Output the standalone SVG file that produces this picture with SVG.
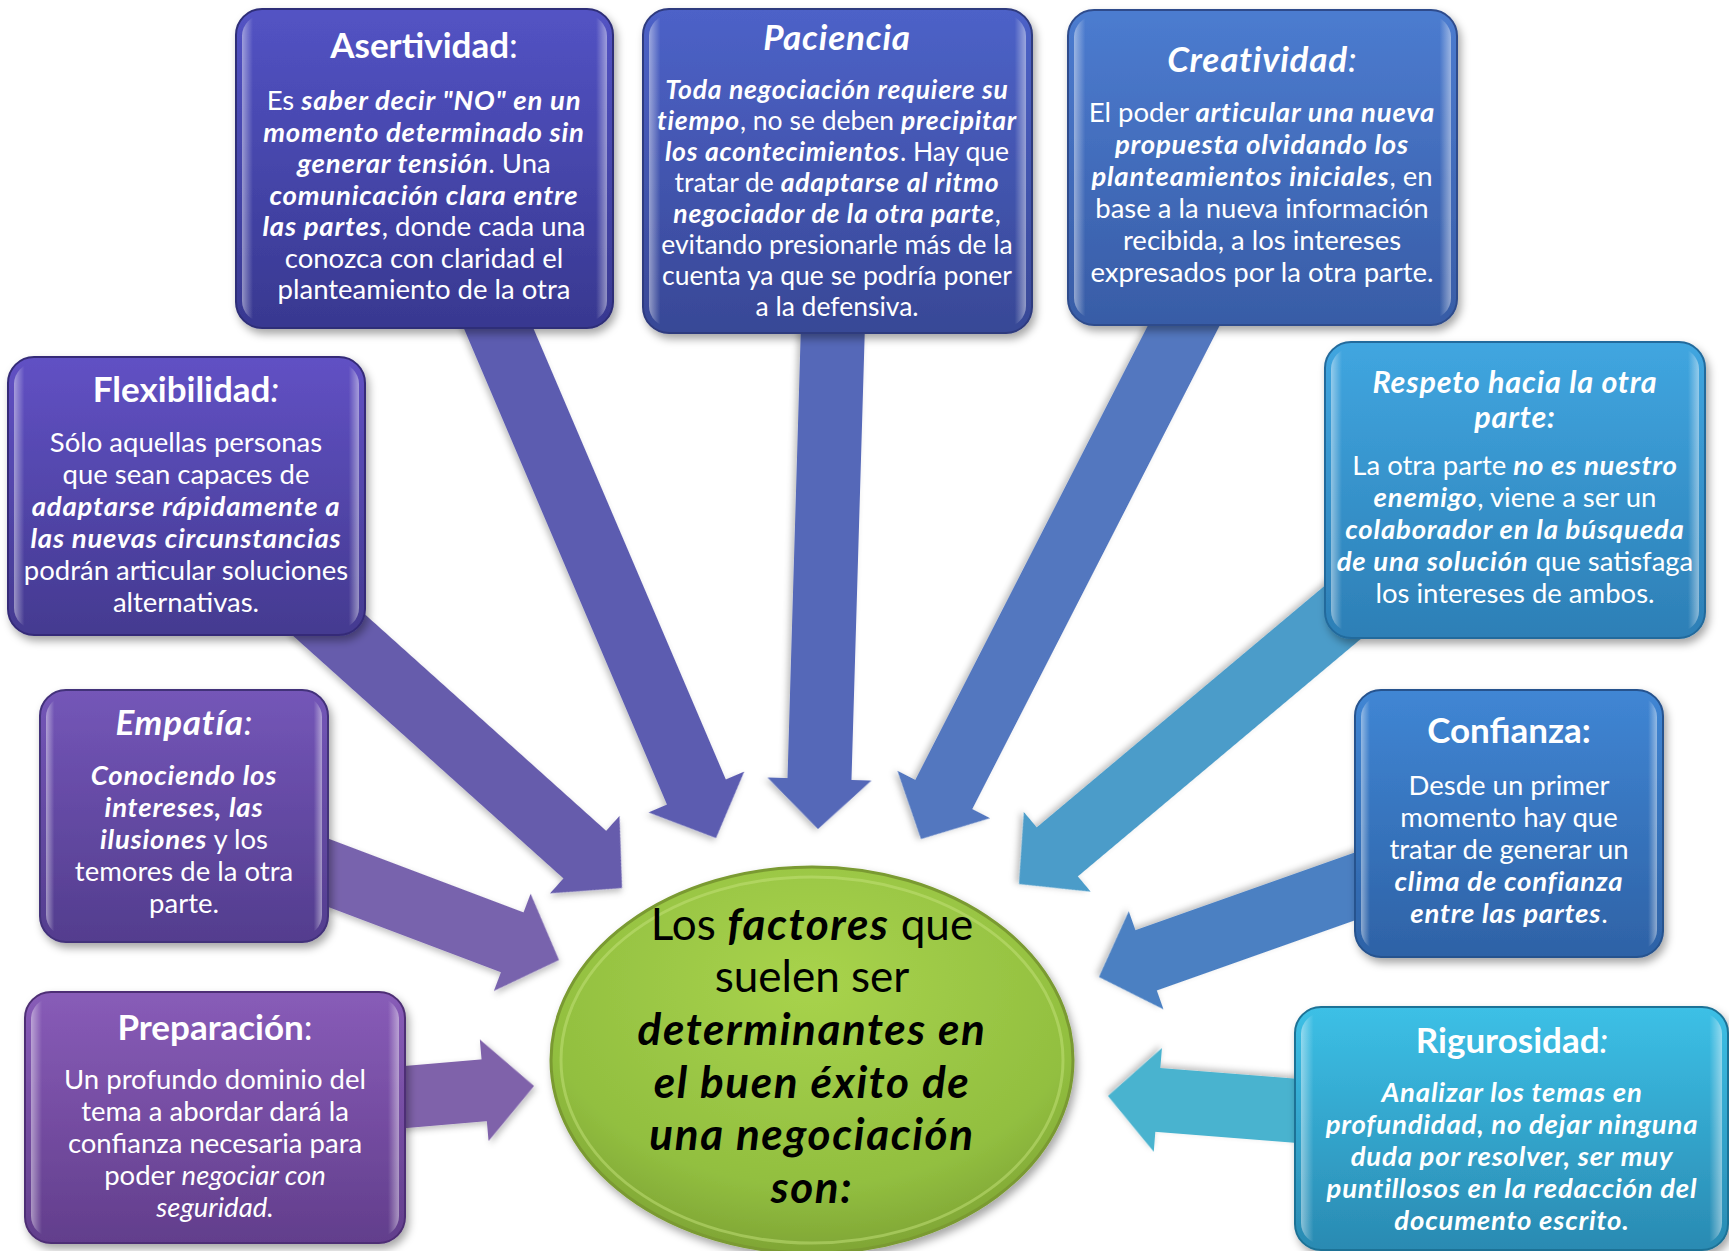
<svg xmlns="http://www.w3.org/2000/svg" width="1729" height="1251" viewBox="0 0 1729 1251">
<defs>
<style>
text{font-family:Lato,"Open Sans","Liberation Sans",sans-serif;text-anchor:middle;fill:#fff}
.t{font-size:35px;font-weight:bold}
.b{font-size:27.5px}
#paciencia .b{font-size:26.5px}
.bi{font-weight:bold;font-style:italic;letter-spacing:0.8px}
.i{font-style:italic}
.n{font-weight:normal;letter-spacing:0}
.c{font-size:44px;fill:#000}
.c.bi,.c .bi{letter-spacing:1.6px}
.box{stroke-width:2}
.arrow{filter:url(#ash)}
</style>
<filter id="sh" x="-10%" y="-10%" width="125%" height="125%"><feDropShadow dx="3" dy="5" stdDeviation="4" flood-color="#000" flood-opacity="0.35"/></filter>
<filter id="ash" x="-10%" y="-10%" width="125%" height="125%"><feDropShadow dx="2" dy="3" stdDeviation="3" flood-color="#000" flood-opacity="0.25"/></filter>
<linearGradient id="edge" x1="0" y1="0" x2="1" y2="0">
<stop offset="0" stop-color="#fff" stop-opacity="0.45"/><stop offset="0.03" stop-color="#fff" stop-opacity="0"/><stop offset="0.97" stop-color="#fff" stop-opacity="0"/><stop offset="1" stop-color="#fff" stop-opacity="0.45"/>
</linearGradient>
<linearGradient id="gA" x1="0" y1="0" x2="0" y2="1"><stop offset="0" stop-color="#5353c4"/><stop offset="1" stop-color="#383890"/></linearGradient>
<linearGradient id="gP" x1="0" y1="0" x2="0" y2="1"><stop offset="0" stop-color="#4d62c8"/><stop offset="1" stop-color="#384896"/></linearGradient>
<linearGradient id="gC" x1="0" y1="0" x2="0" y2="1"><stop offset="0" stop-color="#4c7cd0"/><stop offset="1" stop-color="#385ca6"/></linearGradient>
<linearGradient id="gF" x1="0" y1="0" x2="0" y2="1"><stop offset="0" stop-color="#6151c4"/><stop offset="1" stop-color="#443a90"/></linearGradient>
<linearGradient id="gR" x1="0" y1="0" x2="0" y2="1"><stop offset="0" stop-color="#40a6e0"/><stop offset="1" stop-color="#2d7fb6"/></linearGradient>
<linearGradient id="gE" x1="0" y1="0" x2="0" y2="1"><stop offset="0" stop-color="#7456b8"/><stop offset="1" stop-color="#533d8e"/></linearGradient>
<linearGradient id="gK" x1="0" y1="0" x2="0" y2="1"><stop offset="0" stop-color="#4086d4"/><stop offset="1" stop-color="#2e62a6"/></linearGradient>
<linearGradient id="gQ" x1="0" y1="0" x2="0" y2="1"><stop offset="0" stop-color="#885cb8"/><stop offset="1" stop-color="#623e8c"/></linearGradient>
<linearGradient id="gG" x1="0" y1="0" x2="0" y2="1"><stop offset="0" stop-color="#3cc0e6"/><stop offset="1" stop-color="#2a8ab2"/></linearGradient>
<radialGradient id="gO" cx="0.5" cy="0.3" r="0.75"><stop offset="0" stop-color="#a8d34c"/><stop offset="0.7" stop-color="#92bf40"/><stop offset="1" stop-color="#7a9e32"/></radialGradient>
</defs>
<rect width="1729" height="1251" fill="#fff"/>

<g id="connectors">
<polygon class="arrow" fill="#5b5bb0" transform="translate(716,838) rotate(66.9)" points="-580,-32 -50,-32 -50,-52 0,0 -50,52 -50,32 -580,32"/>
<polygon class="arrow" fill="#5467b8" transform="translate(818,829) rotate(91.7)" points="-530,-32 -50,-32 -50,-52 0,0 -50,52 -50,32 -530,32"/>
<polygon class="arrow" fill="#5277bf" transform="translate(921,839) rotate(117.1)" points="-600,-32 -50,-32 -50,-52 0,0 -50,52 -50,32 -600,32"/>
<polygon class="arrow" fill="#665cac" transform="translate(622,888) rotate(41.9)" points="-420,-32 -50,-32 -50,-52 0,0 -50,52 -50,32 -420,32"/>
<polygon class="arrow" fill="#7863ad" transform="translate(559,960) rotate(20.7)" points="-260,-32 -50,-32 -50,-52 0,0 -50,52 -50,32 -260,32"/>
<polygon class="arrow" fill="#7f62aa" transform="translate(534,1086) rotate(-4.9)" points="-150,-31 -50,-31 -50,-51 0,0 -50,51 -50,31 -150,31"/>
<polygon class="arrow" fill="#4c9cc9" transform="translate(1019,884) rotate(140)" points="-440,-32 -50,-32 -50,-52 0,0 -50,52 -50,32 -440,32"/>
<polygon class="arrow" fill="#4b80c2" transform="translate(1099,977) rotate(160.5)" points="-290,-32 -50,-32 -50,-52 0,0 -50,52 -50,32 -290,32"/>
<polygon class="arrow" fill="#4ab3cf" transform="translate(1108,1096) rotate(184.5)" points="-210,-32 -50,-32 -50,-52 0,0 -50,52 -50,32 -210,32"/>
</g>

<g id="center">
<ellipse cx="812" cy="1060" rx="261" ry="193" fill="url(#gO)" stroke="#7a9a30" stroke-width="3" filter="url(#sh)"/>
<ellipse cx="812" cy="1060" rx="251" ry="183" fill="none" stroke="#c4e27a" stroke-opacity="0.5" stroke-width="3"/>
<text class="c" x="812" y="940">Los <tspan class="bi">factores</tspan> que</text>
<text class="c" x="812" y="992">suelen ser</text>
<text class="c bi" x="812" y="1045">determinantes en</text>
<text class="c bi" x="812" y="1098">el buen éxito de</text>
<text class="c bi" x="812" y="1150">una negociación</text>
<text class="c bi" x="812" y="1203">son:</text>
</g>

<g id="asertividad">
<rect class="box" x="236" y="9" width="377" height="319" rx="26" fill="url(#gA)" stroke="#2e2e78" filter="url(#sh)"/>
<rect x="242" y="15" width="365" height="307" rx="21" fill="url(#edge)"/>
<text class="t" x="424" y="58">Asertividad<tspan class="n">:</tspan></text>
<text class="b" x="424" y="110">Es <tspan class="bi">saber decir "NO" en un</tspan></text>
<text class="b bi" x="424" y="141.5">momento determinado sin</text>
<text class="b" x="424" y="173"><tspan class="bi">generar tensión</tspan>. Una</text>
<text class="b bi" x="424" y="204.5">comunicación clara entre</text>
<text class="b" x="424" y="236"><tspan class="bi">las partes</tspan>, donde cada una</text>
<text class="b" x="424" y="267.5">conozca con claridad el</text>
<text class="b" x="424" y="299">planteamiento de la otra</text>
</g>

<g id="paciencia">
<rect class="box" x="643" y="9" width="389" height="324" rx="26" fill="url(#gP)" stroke="#2e3a7e" filter="url(#sh)"/>
<rect x="649" y="15" width="377" height="312" rx="21" fill="url(#edge)"/>
<text class="t bi" x="837" y="50">Paciencia</text>
<text class="b bi" x="837" y="99">Toda negociación requiere su</text>
<text class="b" x="837" y="130"><tspan class="bi">tiempo</tspan>, no se deben <tspan class="bi">precipitar</tspan></text>
<text class="b" x="837" y="161"><tspan class="bi">los acontecimientos</tspan>. Hay que</text>
<text class="b" x="837" y="192">tratar de <tspan class="bi">adaptarse al ritmo</tspan></text>
<text class="b" x="837" y="223"><tspan class="bi">negociador de la otra parte</tspan>,</text>
<text class="b" x="837" y="254">evitando presionarle más de la</text>
<text class="b" x="837" y="285">cuenta ya que se podría poner</text>
<text class="b" x="837" y="316">a la defensiva.</text>
</g>

<g id="creatividad">
<rect class="box" x="1068" y="10" width="389" height="315" rx="26" fill="url(#gC)" stroke="#2e4c8c" filter="url(#sh)"/>
<rect x="1074" y="16" width="377" height="303" rx="21" fill="url(#edge)"/>
<text class="t bi" x="1262" y="72">Creatividad<tspan class="n">:</tspan></text>
<text class="b" x="1262" y="122">El poder <tspan class="bi">articular una nueva</tspan></text>
<text class="b bi" x="1262" y="154">propuesta olvidando los</text>
<text class="b" x="1262" y="186"><tspan class="bi">planteamientos iniciales</tspan>, en</text>
<text class="b" x="1262" y="218">base a la nueva información</text>
<text class="b" x="1262" y="250">recibida, a los intereses</text>
<text class="b" x="1262" y="282">expresados por la otra parte.</text>
</g>

<g id="flexibilidad">
<rect class="box" x="8" y="357" width="357" height="278" rx="26" fill="url(#gF)" stroke="#342c78" filter="url(#sh)"/>
<rect x="14" y="363" width="345" height="266" rx="21" fill="url(#edge)"/>
<text class="t" x="186" y="402">Flexibilidad<tspan class="n i">:</tspan></text>
<text class="b" x="186" y="452">Sólo aquellas personas</text>
<text class="b" x="186" y="484">que sean capaces de</text>
<text class="b bi" x="186" y="516">adaptarse rápidamente a</text>
<text class="b bi" x="186" y="548">las nuevas circunstancias</text>
<text class="b" x="186" y="580">podrán articular soluciones</text>
<text class="b" x="186" y="612">alternativas.</text>
</g>

<g id="respeto">
<rect class="box" x="1325" y="342" width="380" height="296" rx="26" fill="url(#gR)" stroke="#236a9c" filter="url(#sh)"/>
<rect x="1331" y="348" width="368" height="284" rx="21" fill="url(#edge)"/>
<text class="t bi" x="1515" y="393" style="font-size:30.5px">Respeto hacia la otra</text>
<text class="t bi" x="1515" y="428" style="font-size:30.5px">parte:</text>
<text class="b" x="1515" y="475">La otra parte <tspan class="bi">no es nuestro</tspan></text>
<text class="b" x="1515" y="507"><tspan class="bi">enemigo</tspan>, viene a ser un</text>
<text class="b bi" x="1515" y="539">colaborador en la búsqueda</text>
<text class="b" x="1515" y="571"><tspan class="bi">de una solución</tspan> que satisfaga</text>
<text class="b" x="1515" y="603">los intereses de ambos.</text>
</g>

<g id="empatia">
<rect class="box" x="40" y="690" width="288" height="252" rx="26" fill="url(#gE)" stroke="#42307a" filter="url(#sh)"/>
<rect x="46" y="696" width="276" height="240" rx="21" fill="url(#edge)"/>
<text class="t bi" x="184" y="735">Empatía<tspan class="n">:</tspan></text>
<text class="b bi" x="184" y="785">Conociendo los</text>
<text class="b bi" x="184" y="817">intereses, las</text>
<text class="b" x="184" y="849"><tspan class="bi">ilusiones</tspan> y los</text>
<text class="b" x="184" y="881">temores de la otra</text>
<text class="b" x="184" y="913">parte.</text>
</g>

<g id="confianza">
<rect class="box" x="1355" y="690" width="308" height="267" rx="26" fill="url(#gK)" stroke="#26528e" filter="url(#sh)"/>
<rect x="1361" y="696" width="296" height="255" rx="21" fill="url(#edge)"/>
<text class="t" x="1509" y="743">Confianza:</text>
<text class="b" x="1509" y="795">Desde un primer</text>
<text class="b" x="1509" y="827">momento hay que</text>
<text class="b" x="1509" y="859">tratar de generar un</text>
<text class="b bi" x="1509" y="891">clima de confianza</text>
<text class="b" x="1509" y="923"><tspan class="bi">entre las partes</tspan>.</text>
</g>

<g id="preparacion">
<rect class="box" x="25" y="992" width="380" height="251" rx="26" fill="url(#gQ)" stroke="#4e2e74" filter="url(#sh)"/>
<rect x="31" y="998" width="368" height="239" rx="21" fill="url(#edge)"/>
<text class="t" x="215" y="1040">Preparación<tspan class="n">:</tspan></text>
<text class="b" x="215" y="1089">Un profundo dominio del</text>
<text class="b" x="215" y="1121">tema a abordar dará la</text>
<text class="b" x="215" y="1153">confianza necesaria para</text>
<text class="b" x="215" y="1185">poder <tspan class="i">negociar con</tspan></text>
<text class="b i" x="215" y="1217">seguridad.</text>
</g>

<g id="rigurosidad">
<rect class="box" x="1295" y="1007" width="433" height="243" rx="26" fill="url(#gG)" stroke="#1f7296" filter="url(#sh)"/>
<rect x="1301" y="1013" width="421" height="231" rx="21" fill="url(#edge)"/>
<text class="t" x="1512" y="1053">Rigurosidad<tspan class="n i">:</tspan></text>
<text class="b bi" x="1512" y="1102">Analizar los temas en</text>
<text class="b bi" x="1512" y="1134">profundidad, no dejar ninguna</text>
<text class="b bi" x="1512" y="1166">duda por resolver, ser muy</text>
<text class="b bi" x="1512" y="1198">puntillosos en la redacción del</text>
<text class="b bi" x="1512" y="1230">documento escrito.</text>
</g>
</svg>
